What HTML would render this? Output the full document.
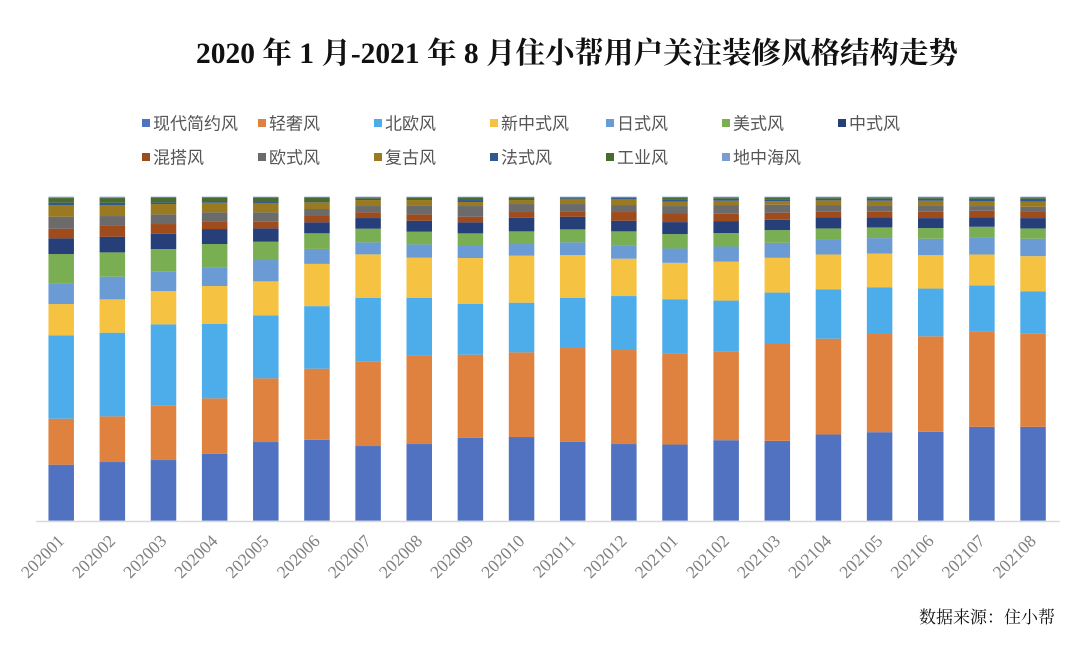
<!DOCTYPE html>
<html><head><meta charset="utf-8">
<style>
body{margin:0;background:#fff;}
svg{display:block;}
</style></head>
<body>
<svg id="chart" width="1080" height="650" xmlns="http://www.w3.org/2000/svg">
<text x="577" y="63" text-anchor="middle" font-family="Liberation Serif, Noto Serif CJK SC, serif" font-weight="bold" font-size="29.5" fill="#111">2020 年 1 月-2021 年 8 月住小帮用户关注装修风格结构走势</text>
<g id="legend"></g>
<g id="bars"></g>
<line x1="36" y1="521.5" x2="1060" y2="521.5" stroke="#d9d9d9" stroke-width="1.5"/>
<g id="xlabels"></g>
<text x="1055" y="623" text-anchor="end" font-family="Liberation Serif, Noto Serif CJK SC, serif" font-size="17" fill="#111">数据来源：住小帮</text>
</svg>
<script>
const categories=["202001","202002","202003","202004","202005","202006","202007","202008","202009","202010","202011","202012","202101","202102","202103","202104","202105","202106","202107","202108"];
const seriesNames=["现代简约风","轻奢风","北欧风","新中式风","日式风","美式风","中式风","混搭风","欧式风","复古风","法式风","工业风","地中海风"];
const seriesColors=["#5072c0","#e0823f","#4dadea","#f5c242","#6a9bd4","#7aae52","#263f78","#a04b1b","#6b6b6b","#9a7a20","#2e5a8f","#4a6b2e","#7a9bd4"];
const modern=[168,176,182,201,236,243,224,230,249,251,237,230,228,241,239,258,265,266,281,281];
const lightLux=[138,137,163,166,191,214,253,266,249,254,281,282,273,266,293,287,294,286,285,280];
const nordic=[250,251,244,224,189,188,192,173,153,149,151,162,162,152,151,148,140,143,138,126];
const newChinese=[94,100,100,113,102,127,130,120,137,141,128,112,109,117,104,104,101,100,93,105];
const japanese=[62,68,58,56,64,45,36,40,39,35,38,40,43,45,45,45,46,49,52,52];
const american=[88,73,68,70,55,47,41,38,35,38,39,42,43,40,38,33,32,32,31,31];
const chinese=[47,47,46,45,40,33,32,33,33,41,38,32,36,36,31,33,30,30,28,31];
const mixed=[29,34,29,23,20,19,17,19,17,17,16,26,27,22,21,17,17,19,20,20];
const european=[36,28,29,27,28,21,19,27,32,24,22,21,21,26,24,20,19,19,14,14];
const vintage=[35,33,31,29,27,20,18,16,12,12,14,17,13,13,11,14,14,14,14,15];
const french=[7,7,5,5,4,4,4,3,6,3,3,4,7,6,5,5,6,6,8,9];
const industrial=[14,14,15,11,14,11,4,5,8,5,3,2,6,4,6,4,4,4,4,4];
const mediterranean=[4,4,2,2,2,2,2,2,2,2,2,2,2,2,2,2,2,2,2,2];
const seriesValues=[modern,lightLux,nordic,newChinese,japanese,american,chinese,mixed,european,vintage,french,industrial,mediterranean];

const NS="http://www.w3.org/2000/svg";
const plotTop=196.7, plotBottom=520.7, firstX=61.2, stepX=51.15, barW=25.5;
function xScale(i){return firstX+i*stepX;}
function yScale(p){return plotBottom-(plotBottom-plotTop)*p;}
const bars=document.getElementById('bars');
categories.forEach((c,i)=>{
  let total=0;seriesValues.forEach(s=>total+=s[i]);
  let cum=0;
  seriesValues.forEach((s,k)=>{
    const y0=yScale(cum/total);cum+=s[i];const y1=yScale(cum/total);
    const r=document.createElementNS(NS,'rect');
    r.setAttribute('x',xScale(i)-barW/2);r.setAttribute('y',y1);
    r.setAttribute('width',barW);r.setAttribute('height',Math.max(0,y0-y1));
    r.setAttribute('fill',seriesColors[k]);
    
    
    bars.appendChild(r);
  });
  const t=document.createElementNS(NS,'text');
  const lx=xScale(i)+4, ly=542;
  t.setAttribute('x',lx);t.setAttribute('y',ly);
  t.setAttribute('text-anchor','end');
  t.setAttribute('transform','rotate(-45 '+lx+' '+ly+')');
  t.setAttribute('font-family','Liberation Serif, serif');
  t.setAttribute('font-size','17.5');t.setAttribute('fill','#7f7f7f');
  t.textContent=c;
  
  
  document.getElementById('xlabels').appendChild(t);
});
const legend=document.getElementById('legend');
seriesNames.forEach((n,k)=>{
  const row=k<7?0:1, col=k<7?k:k-7;
  const x=142+col*116, y=row?157:123;
  const g=document.createElementNS(NS,'g');
  
  
  const r=document.createElementNS(NS,'rect');
  r.setAttribute('x',x);r.setAttribute('y',y-4);r.setAttribute('width',8);r.setAttribute('height',8);
  r.setAttribute('fill',seriesColors[k]);
  g.appendChild(r);
  const t=document.createElementNS(NS,'text');
  t.setAttribute('x',x+11);t.setAttribute('y',y+6.5);
  t.setAttribute('font-family','Liberation Sans, Noto Sans CJK SC, sans-serif');
  t.setAttribute('font-size','17');t.setAttribute('fill','#555');
  t.textContent=n;
  g.appendChild(t);
  legend.appendChild(g);
});
</script>
</body></html>
